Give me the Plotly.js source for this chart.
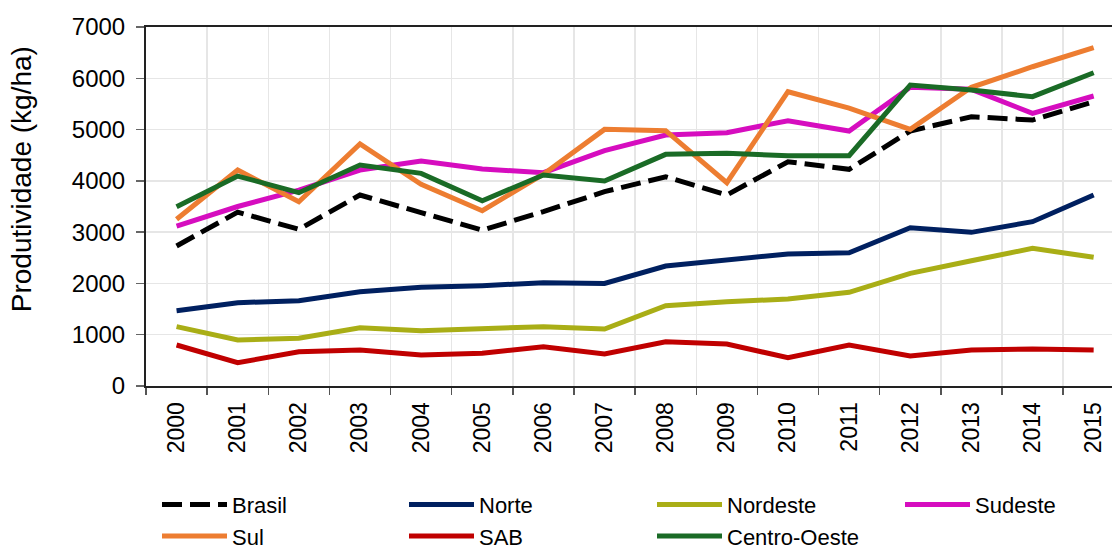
<!DOCTYPE html>
<html><head><meta charset="utf-8">
<script src="https://cdn.plot.ly/plotly-3.0.1.min.js"></script>
<style>html,body{margin:0;padding:0;background:#fff;overflow:hidden}</style>
</head><body><div id="chart" style="width:1112px;height:549px"></div>
<script>
const years = ["2000","2001","2002","2003","2004","2005","2006","2007","2008","2009","2010","2011","2012","2013","2014","2015"];
const brasil = [2730,3390,3055,3724,3380,3040,3400,3790,4080,3724,4373,4225,4972,5250,5186,5543];
const norte = [1468,1624,1663,1839,1924,1956,2014,2001,2340,2460,2574,2599,3087,2996,3204,3724];
const nordeste = [1157,897,930,1137,1079,1111,1157,1111,1566,1644,1696,1827,2197,2443,2684,2509];
const sudeste = [3119,3500,3821,4211,4387,4230,4159,4588,4894,4939,5173,4972,5824,5785,5317,5654];
const sul = [3250,4211,3593,4718,3932,3418,4130,5004,4978,3964,5738,5420,5004,5824,6225,6596];
const sab = [799,454,669,702,604,637,767,624,864,819,552,799,585,702,721,702];
const centroOeste = [3496,4094,3769,4309,4146,3613,4114,3997,4517,4537,4490,4490,5869,5771,5641,6108];
const yTitle = "Produtividade (kg/ha)";

const series = [
  {name:"Brasil", y:brasil, color:"#000000", dash:"20px,8px", legend:"legend"},
  {name:"Norte", y:norte, color:"#002060", dash:"solid", legend:"legend2"},
  {name:"Nordeste", y:nordeste, color:"#a9ae16", dash:"solid", legend:"legend3"},
  {name:"Sudeste", y:sudeste, color:"#d60dbf", dash:"solid", legend:"legend4"},
  {name:"Sul", y:sul, color:"#ed7d31", dash:"solid", legend:"legend"},
  {name:"SAB", y:sab, color:"#c00000", dash:"solid", legend:"legend2"},
  {name:"Centro-Oeste", y:centroOeste, color:"#1a6b26", dash:"solid", legend:"legend3"}
];
const traces = series.map(s => ({
  type:"scatter", mode:"lines", name:s.name, x:years, y:s.y,
  legend:s.legend, legendgroup:s.name,
  line:{color:s.color, width:5, dash:s.dash}
}));

const font = "Liberation Sans, Arial, sans-serif";
const plotLeft = 146, plotWidth = 966;
function leg(xpx){
  return {orientation:"v", xref:"paper", yref:"container",
    x:(xpx - plotLeft)/plotWidth, xanchor:"left", y:0.119, yanchor:"top",
    font:{size:22, family:font}, traceorder:"normal",
    tracegroupgap:4, itemwidth:65, bgcolor:"rgba(0,0,0,0)"};
}
const layout = {
  width:1112, height:549,
  margin:{l:146, r:0, t:27, b:163},
  paper_bgcolor:"#fff", plot_bgcolor:"#fff",
  font:{family:font, color:"#000"},
  showlegend:true,
  legend:leg(157), legend2:leg(404), legend3:leg(652), legend4:leg(900),
  xaxis:{type:"category", range:[-0.5, 15.3], tickson:"boundaries",
    showgrid:true, gridcolor:"#e6e6e6", gridwidth:1.5,
    showline:true, linecolor:"#222", linewidth:2, mirror:true,
    ticks:"outside", ticklen:7, tickcolor:"#555", tickwidth:1.5, ticklabelstandoff:5,
    tickangle:-90, tickfont:{size:23, family:font}, automargin:false},
  yaxis:{range:[0,7000], dtick:1000, showgrid:true, gridcolor:"#e6e6e6", gridwidth:1.5,
    showline:true, linecolor:"#222", linewidth:2,
    ticks:"outside", ticklen:8, tickcolor:"#666", tickwidth:1.5, ticklabelstandoff:6,
    tickfont:{size:24, family:font}, zeroline:false, automargin:false},
  annotations:[{text:yTitle, textangle:-90, xref:"paper", yref:"paper",
    x:-0.128, y:0.577, xanchor:"center", yanchor:"middle", showarrow:false,
    font:{size:28, family:font, color:"#000"}}]
};
Plotly.newPlot("chart", traces, layout, {displayModeBar:false, staticPlot:true});
</script></body></html>
